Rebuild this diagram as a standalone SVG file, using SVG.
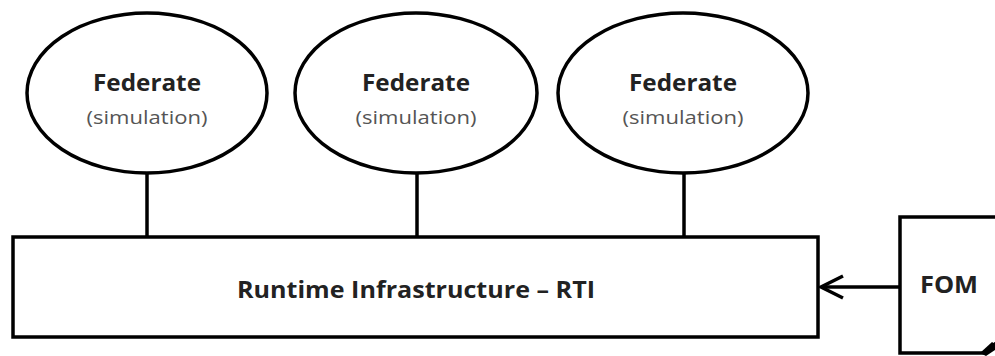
<svg xmlns="http://www.w3.org/2000/svg" width="995" height="356" viewBox="0 0 995 356">
<style>
.shape{fill:#fff;stroke:#000;stroke-width:3.5}
.conn{stroke:#000;stroke-width:3.5;fill:none}
.title{font-family:"Open Sans","Liberation Sans",sans-serif;font-weight:bold;font-size:23px;fill:#222;text-anchor:middle}
.sub{font-family:"Open Sans","Liberation Sans",sans-serif;font-size:19px;fill:#555;text-anchor:middle}
</style>
<g id="connectors">
<line class="conn" x1="147" y1="173" x2="147" y2="237"/>
<line class="conn" x1="417" y1="173" x2="417" y2="237"/>
<line class="conn" x1="684" y1="173" x2="684" y2="237"/>
<line class="conn" x1="900" y1="287" x2="821" y2="287"/>
<polyline class="conn" points="843,276 821,287 843,298"/>
</g>
<g id="federate1">
<ellipse class="shape" cx="147" cy="93" rx="120" ry="80"/>
<text class="title" x="147" y="91" textLength="108" lengthAdjust="spacingAndGlyphs">Federate</text>
<text class="sub" x="147" y="124" textLength="121" lengthAdjust="spacingAndGlyphs">(simulation)</text>
</g>
<g id="federate2">
<ellipse class="shape" cx="416" cy="93" rx="121" ry="80"/>
<text class="title" x="416" y="91" textLength="108" lengthAdjust="spacingAndGlyphs">Federate</text>
<text class="sub" x="416" y="124" textLength="121" lengthAdjust="spacingAndGlyphs">(simulation)</text>
</g>
<g id="federate3">
<ellipse class="shape" cx="683" cy="93" rx="125" ry="80"/>
<text class="title" x="683" y="91" textLength="108" lengthAdjust="spacingAndGlyphs">Federate</text>
<text class="sub" x="683" y="124" textLength="121" lengthAdjust="spacingAndGlyphs">(simulation)</text>
</g>
<g id="rti">
<rect class="shape" x="13" y="237" width="805" height="100"/>
<text class="title" x="416" y="298" font-size="22" textLength="358" lengthAdjust="spacingAndGlyphs">Runtime Infrastructure – RTI</text>
</g>
<g id="fom">
<path class="shape" d="M900,353 L900,217 L1000,217 L1000,340 L984,353 Z"/>
<path d="M980,353 L992,342 L995,344 L995,350 L986,356 Z" fill="#000"/>
<text class="title" x="949" y="293" textLength="58" lengthAdjust="spacingAndGlyphs">FOM</text>
</g>
</svg>
